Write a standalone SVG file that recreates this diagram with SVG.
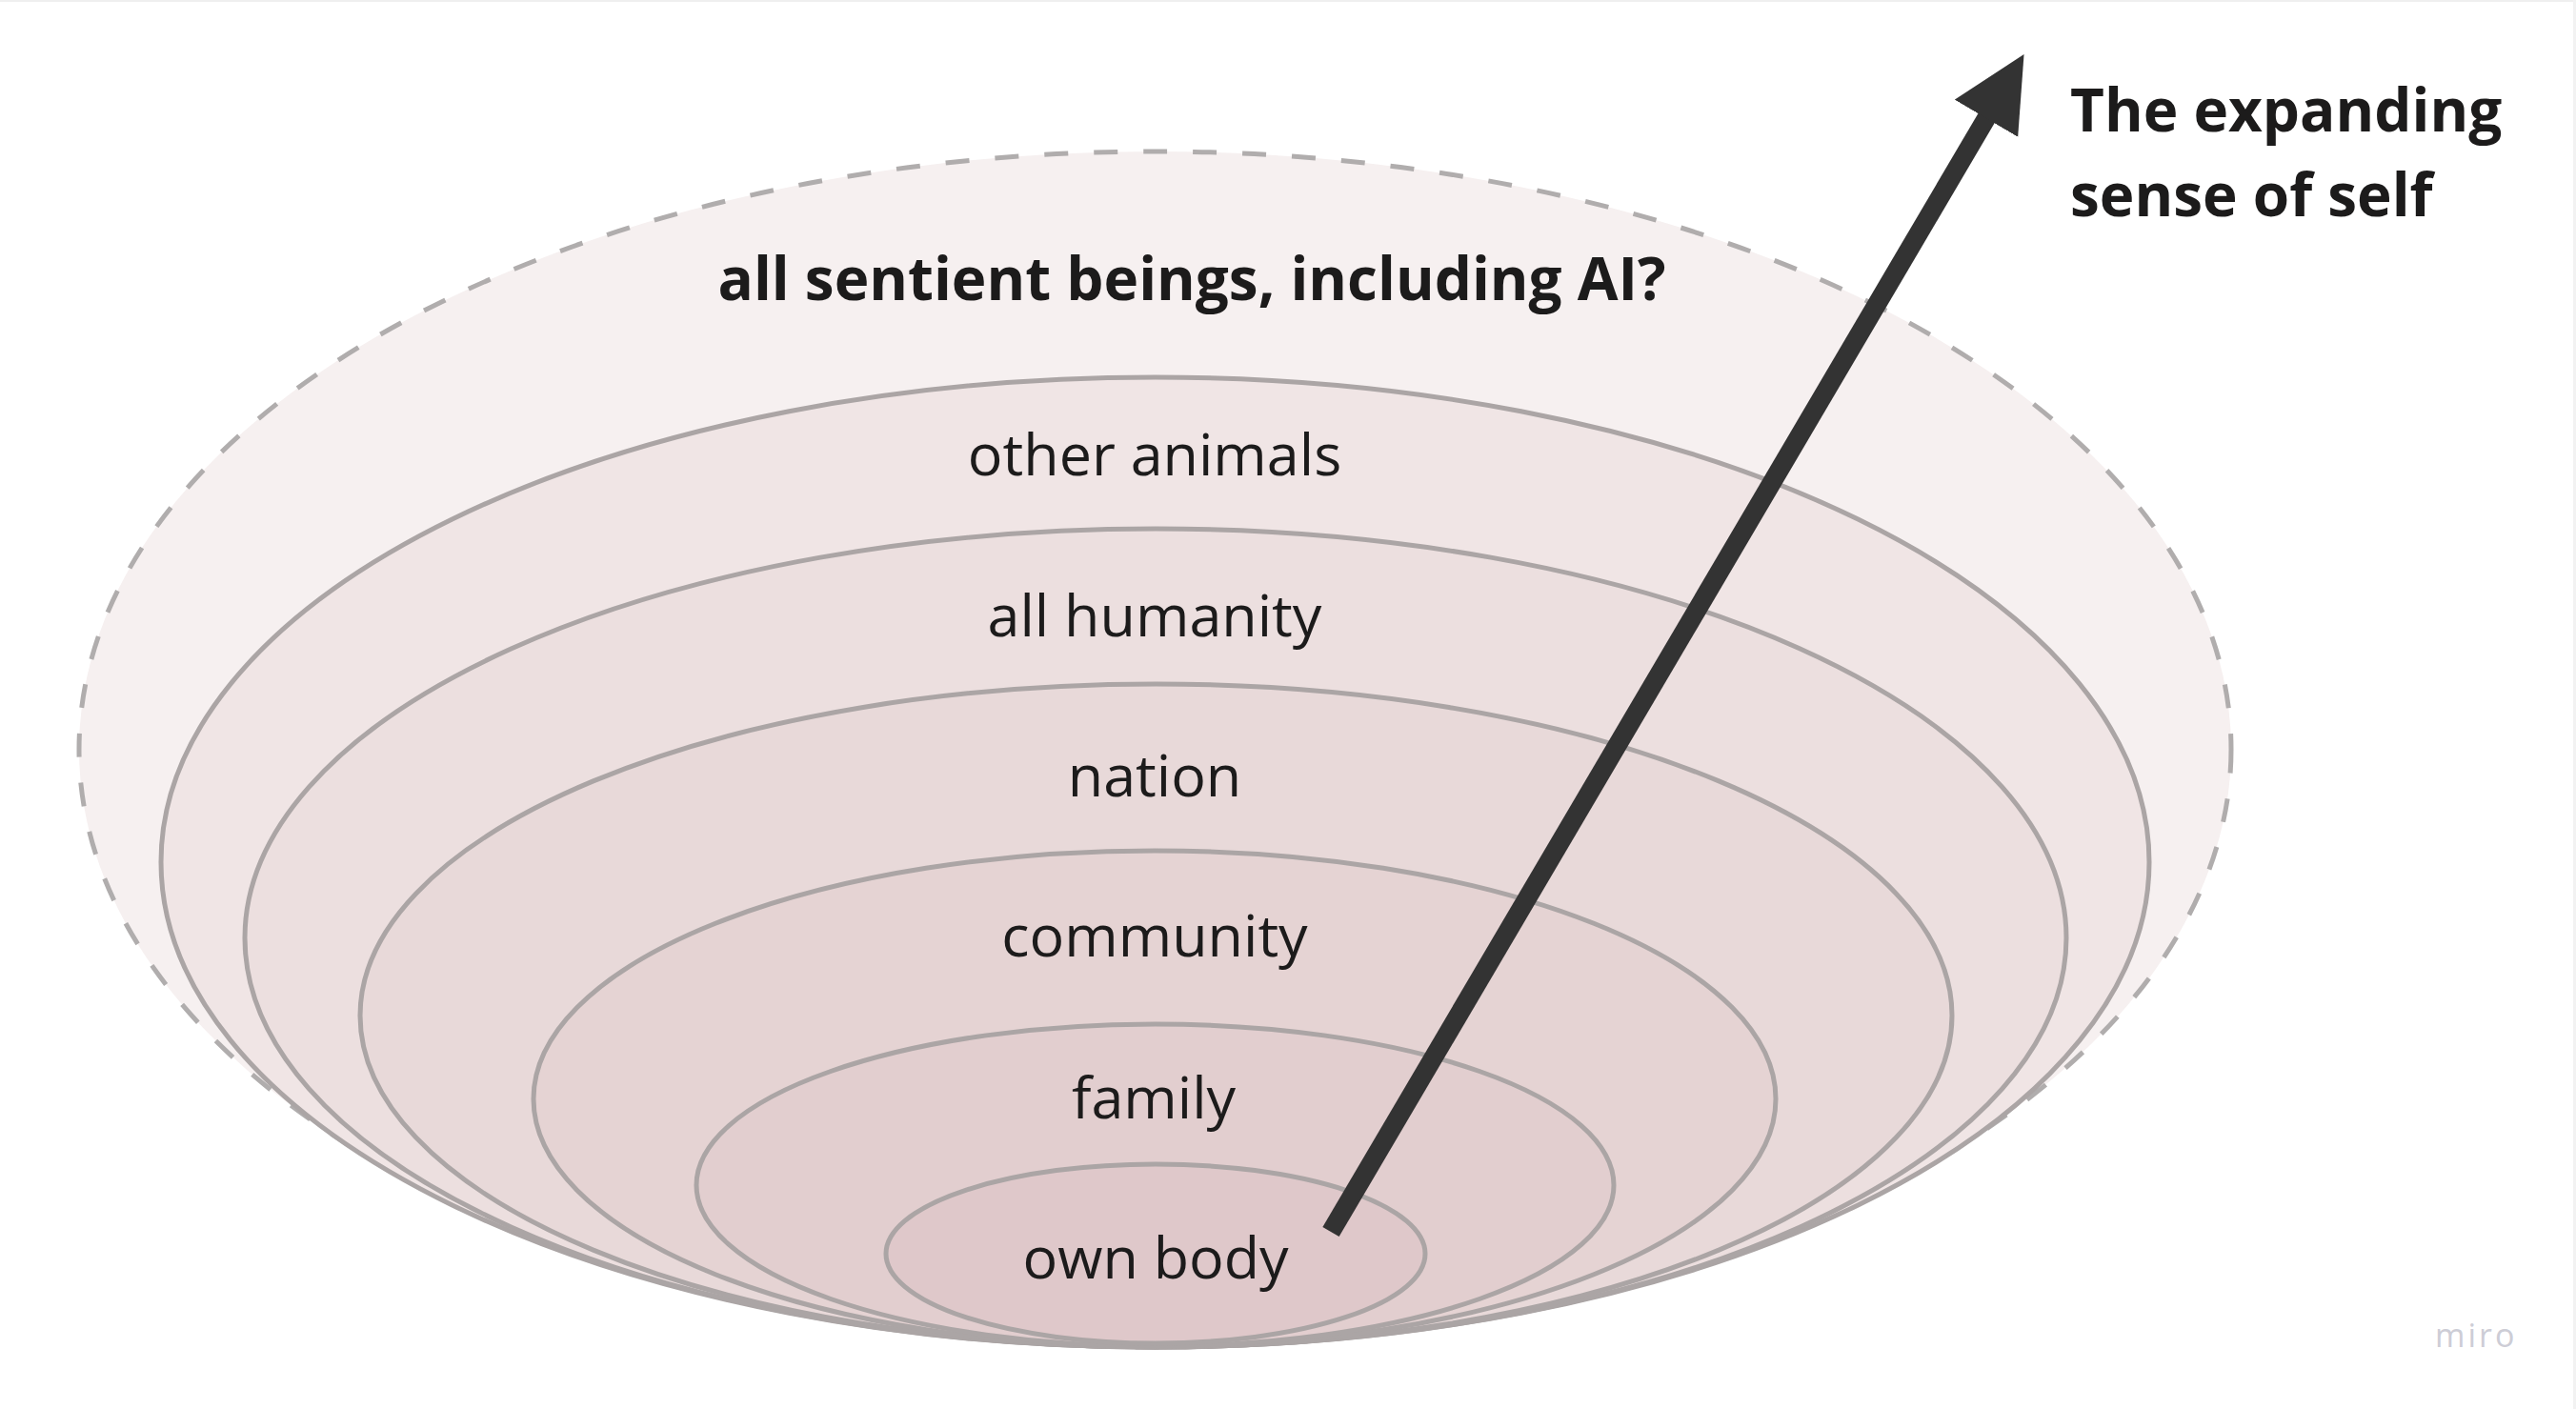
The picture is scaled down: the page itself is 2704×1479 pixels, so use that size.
<svg xmlns="http://www.w3.org/2000/svg" width="2704" height="1479" viewBox="0 0 2704 1479">
<style>
.ring{stroke:#aba5a5;stroke-width:5;}
.dash{stroke:#b0adad;stroke-width:5;stroke-dasharray:25 27;}
.lbl{font-family:"Open Sans","Liberation Sans",sans-serif;font-size:61px;fill:#1c1b1b;text-anchor:middle;}
.bold{font-family:"Open Sans","Liberation Sans",sans-serif;font-size:62px;font-weight:bold;fill:#1c1b1b;}
.miro{font-family:"Open Sans","Liberation Sans",sans-serif;font-size:34px;fill:#cdcdd6;letter-spacing:3px;}
</style>
<defs>
<marker id="head" markerUnits="userSpaceOnUse" markerWidth="80" markerHeight="78" viewBox="0 0 80 78" refX="2" refY="38.5" orient="auto">
<path d="M0,0 L78,38.5 L0,77 Z" fill="#333333"/>
</marker>
</defs>
<rect x="0" y="0" width="2704" height="1479" fill="#ffffff"/>
<rect x="0" y="0" width="2704" height="2" fill="#efefef"/>
<rect x="2701" y="0" width="3" height="1479" fill="#f2f2f2"/>
<g id="node-sentient">
<ellipse cx="1212.5" cy="786.5" rx="1129.5" ry="627.5" fill="#f6f0f0" class="dash"/>
<text class="bold" x="1251" y="315" text-anchor="middle">all sentient beings, including AI?</text>
</g>
<g id="node-animals">
<ellipse cx="1212.5" cy="905" rx="1043.5" ry="509" fill="#f0e5e5" class="ring"/>
<text class="lbl" x="1212" y="499">other animals</text>
</g>
<g id="node-humanity">
<ellipse cx="1213" cy="984.5" rx="956" ry="429.5" fill="#ecdfdf" class="ring"/>
<text class="lbl" x="1212" y="668">all humanity</text>
</g>
<g id="node-nation">
<ellipse cx="1213.5" cy="1066" rx="835.5" ry="348" fill="#e8d9d9" class="ring"/>
<text class="lbl" x="1212" y="836">nation</text>
</g>
<g id="node-community">
<ellipse cx="1212" cy="1153.5" rx="652" ry="260.5" fill="#e5d3d3" class="ring"/>
<text class="lbl" x="1212" y="1004">community</text>
</g>
<g id="node-family">
<ellipse cx="1212.5" cy="1244" rx="481.5" ry="169" fill="#e2cecf" class="ring"/>
<text class="lbl" x="1211" y="1174">family</text>
</g>
<g id="node-body">
<ellipse cx="1213" cy="1316" rx="283" ry="94" fill="#dfc8ca" class="ring"/>
<text class="lbl" x="1213" y="1342">own body</text>
</g>
<g id="connectors">
<line x1="1397" y1="1293" x2="2086" y2="122.5" stroke="#333333" stroke-width="20" marker-end="url(#head)"/>
</g>
<g id="node-title">
<text class="bold" x="2173" y="138" font-size="63">The expanding</text>
<text class="bold" x="2173" y="227" font-size="63">sense of self</text>
</g>
<text class="miro" x="2556" y="1414">miro</text>
</svg>
